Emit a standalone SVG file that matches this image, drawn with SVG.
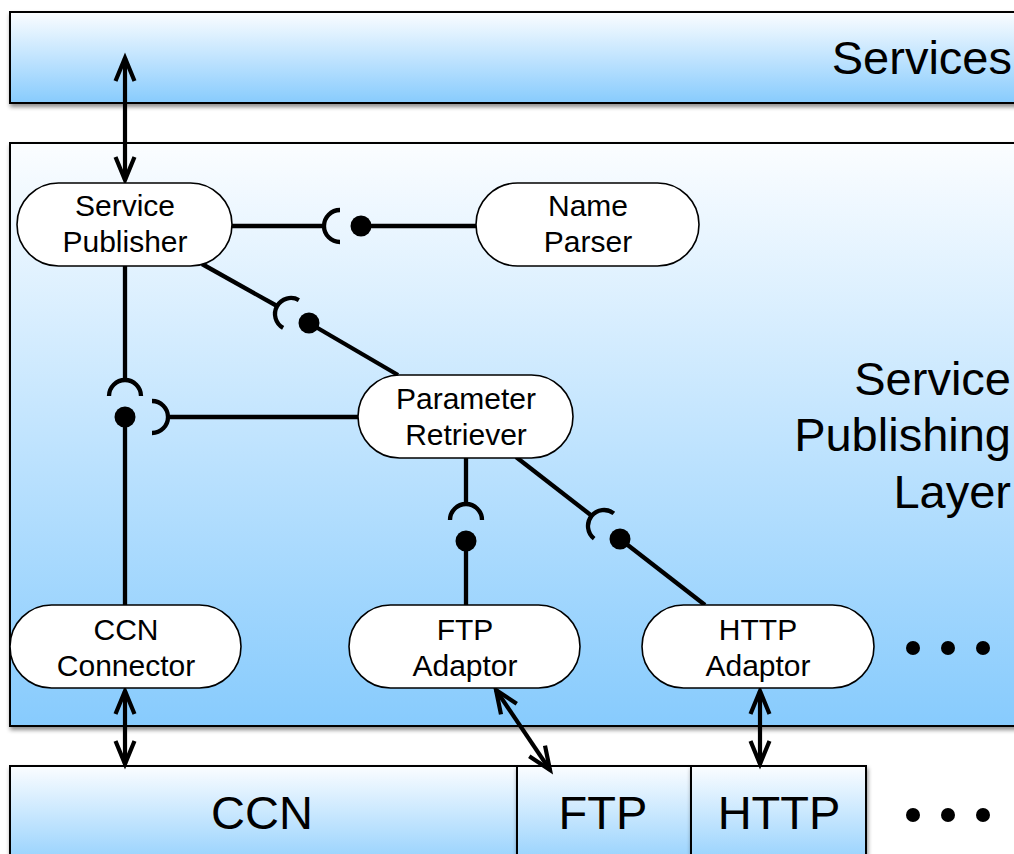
<svg xmlns="http://www.w3.org/2000/svg" width="1014" height="854" viewBox="0 0 1014 854">
<defs>
<linearGradient id="g" x1="0" y1="0" x2="0" y2="1">
<stop offset="0" stop-color="#fbfdff"/>
<stop offset="1" stop-color="#87cbfd"/>
</linearGradient>
<filter id="sh" x="-5%" y="-10%" width="115%" height="130%">
<feDropShadow dx="1" dy="3" stdDeviation="2" flood-color="#000" flood-opacity="0.45"/>
</filter>
<marker id="arr" markerUnits="userSpaceOnUse" markerWidth="30" markerHeight="30" refX="0" refY="0" viewBox="-25 -15 30 30" orient="auto-start-reverse" overflow="visible">
<path d="M-23,-9.5 L0,0 L-23,9.5" fill="none" stroke="#000" stroke-width="4.2" stroke-linejoin="miter"/>
</marker>
<path id="sock" d="M0,-16 A16,16 0 0 0 0,16" fill="none" stroke="#000" stroke-width="4.3"/>
</defs>
<style>
.layer{fill:url(#g);stroke:#000;stroke-width:2;filter:url(#sh)}
.node{fill:#fff;stroke:#000;stroke-width:1.6}
.nt{font-family:"Liberation Sans",Arial,sans-serif;font-size:30px;fill:#000;text-anchor:middle}
.big{font-family:"Liberation Sans",Arial,sans-serif;font-size:47px;fill:#000}
.c{stroke:#000;stroke-width:4.3;fill:none}
.arrow{stroke:#000;stroke-width:4.2;fill:none;marker-start:url(#arr);marker-end:url(#arr)}
</style>

<g id="services-layer">
<rect class="layer" x="10" y="12" width="1030" height="91"/>
<text class="big" x="1012" y="74" text-anchor="end">Services</text>
</g>

<g id="publishing-layer">
<rect class="layer" x="10" y="143" width="1030" height="583"/>
<text class="big" x="1011" y="395" text-anchor="end">Service</text>
<text class="big" x="1011" y="451" text-anchor="end">Publishing</text>
<text class="big" x="1011" y="508" text-anchor="end">Layer</text>
<circle cx="913" cy="648" r="7"/>
<circle cx="948" cy="648" r="7"/>
<circle cx="983" cy="648" r="7"/>
</g>

<g id="ccn-layer">
<rect class="layer" x="10" y="766" width="507" height="110"/>
<text class="big" x="262" y="829" text-anchor="middle">CCN</text>
</g>
<g id="ftp-layer">
<rect class="layer" x="517" y="766" width="174" height="110"/>
<text class="big" x="603" y="829" text-anchor="middle">FTP</text>
</g>
<g id="http-layer">
<rect class="layer" x="691" y="766" width="175" height="110"/>
<text class="big" x="779" y="829" text-anchor="middle">HTTP</text>
</g>
<g id="more-layers">
<circle cx="913" cy="815" r="7"/>
<circle cx="948" cy="815" r="7"/>
<circle cx="983" cy="815" r="7"/>
</g>

<g id="connectors">
<line class="c" x1="232" y1="226" x2="324" y2="226"/>
<use href="#sock" transform="translate(340,226)"/>
<circle cx="361" cy="226" r="10.5"/>
<line class="c" x1="361" y1="226" x2="476" y2="226"/>
<line class="c" x1="202" y1="264" x2="277" y2="306"/>
<use href="#sock" transform="translate(291,314) rotate(29.5)"/>
<circle cx="309" cy="323" r="10.5"/>
<line class="c" x1="309" y1="323" x2="398" y2="375"/>
<line class="c" x1="125" y1="266" x2="125" y2="380"/>
<use href="#sock" transform="translate(125,396) rotate(90)"/>
<circle cx="125" cy="417" r="10.5"/>
<line class="c" x1="125" y1="417" x2="125" y2="605"/>
<line class="c" x1="358" y1="417" x2="168" y2="417"/>
<use href="#sock" transform="translate(152,417) rotate(180)"/>
<line class="c" x1="466" y1="458" x2="466" y2="504"/>
<use href="#sock" transform="translate(466,520) rotate(90)"/>
<circle cx="466" cy="541" r="10.5"/>
<line class="c" x1="466" y1="541" x2="466" y2="605"/>
<line class="c" x1="516" y1="457" x2="592" y2="516"/>
<use href="#sock" transform="translate(604,526) rotate(38)"/>
<circle cx="620" cy="539" r="10.5"/>
<line class="c" x1="620" y1="539" x2="705" y2="605"/>
<line class="arrow" x1="125" y1="58" x2="125" y2="180"/>
<line class="arrow" x1="125" y1="691" x2="125" y2="764"/>
<line class="arrow" x1="496" y1="690" x2="550" y2="770"/>
<line class="arrow" x1="760" y1="691" x2="760" y2="764"/>
</g>

<g id="service-publisher">
<rect class="node" x="17" y="183" width="215" height="83" rx="41.5"/>
<text class="nt" x="125" y="216">Service</text>
<text class="nt" x="125" y="252">Publisher</text>
</g>
<g id="name-parser">
<rect class="node" x="476" y="183" width="223" height="83" rx="41.5"/>
<text class="nt" x="588" y="216">Name</text>
<text class="nt" x="588" y="252">Parser</text>
</g>
<g id="parameter-retriever">
<rect class="node" x="358" y="375" width="215" height="83" rx="41.5"/>
<text class="nt" x="466" y="409">Parameter</text>
<text class="nt" x="466" y="445">Retriever</text>
</g>
<g id="ccn-connector">
<rect class="node" x="10" y="605" width="231" height="83" rx="41.5"/>
<text class="nt" x="126" y="640">CCN</text>
<text class="nt" x="126" y="676">Connector</text>
</g>
<g id="ftp-adaptor">
<rect class="node" x="349" y="605" width="231" height="83" rx="41.5"/>
<text class="nt" x="465" y="640">FTP</text>
<text class="nt" x="465" y="676">Adaptor</text>
</g>
<g id="http-adaptor">
<rect class="node" x="642" y="605" width="232" height="83" rx="41.5"/>
<text class="nt" x="758" y="640">HTTP</text>
<text class="nt" x="758" y="676">Adaptor</text>
</g>
</svg>
